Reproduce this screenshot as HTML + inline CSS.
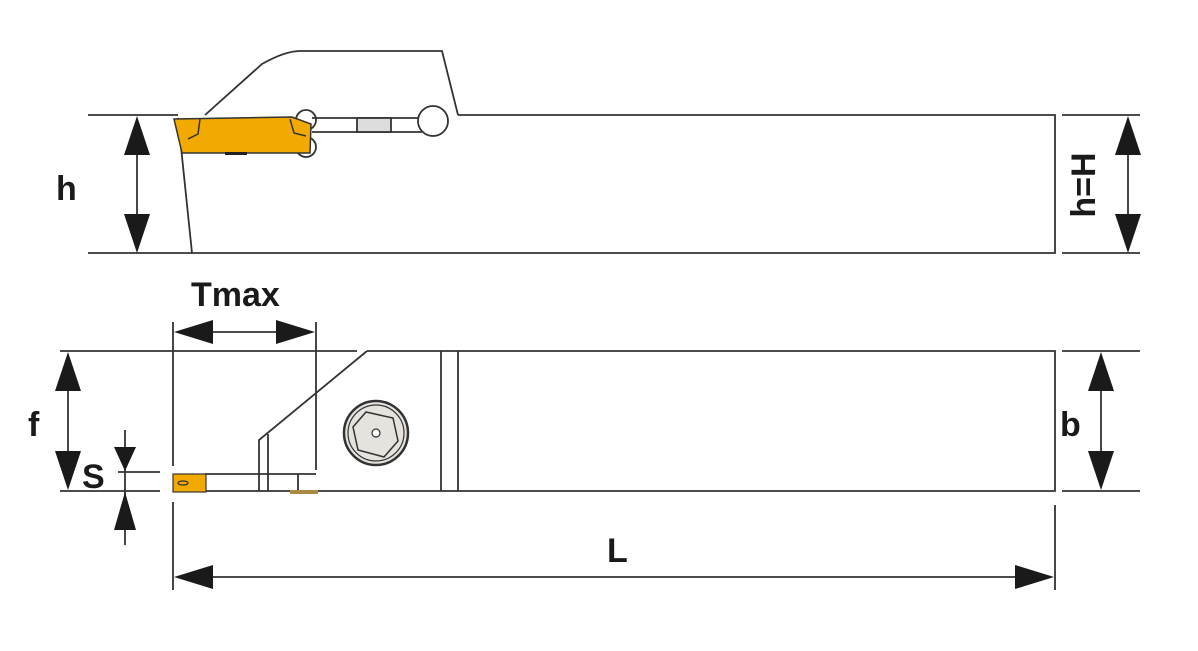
<!DOCTYPE html>
<html><head><style>
html,body{margin:0;padding:0;background:#fff;}
svg{display:block;}
text{font-family:"Liberation Sans",sans-serif;font-weight:bold;fill:#1a1a1a;}
</style></head><body>
<svg width="1198" height="651" viewBox="0 0 1198 651" xmlns="http://www.w3.org/2000/svg">
<g stroke="#333" stroke-width="1.8" fill="none">
<!-- top view holder -->
<path d="M458,115 L1055,115 L1055,253 L192,253 L178,118"/>
<path d="M205,115 L262,64 Q285,51 300,51 L442,51 L458,115"/>
<!-- blade / screw top -->
<path d="M312,118 L422,118 M312,132 L422,132"/>
<rect x="357" y="118" width="34" height="14" fill="#ddd"/>
<circle cx="433" cy="121" r="15" fill="#fff"/>
<circle cx="306" cy="120" r="10"/>
<circle cx="306" cy="147" r="10"/>
<path d="M88,115 L178,115 M88,253 L192,253"/>
<path d="M1062,115 L1140,115 M1062,253 L1140,253"/>
<path d="M137,140 L137,230 M1128,140 L1128,230"/>
</g>
<path d="M174,119 L292,117 L311,124 L310,153 L182,153 Z" fill="#f2a900" stroke="#333" stroke-width="1.5"/>
<path d="M200,119 L198,134 L188,139 M290,119 L294,133 L306,136" stroke="#333" stroke-width="1.5" fill="none"/>
<rect x="225" y="152" width="22" height="3" fill="#222"/>
<!-- arrows top -->
<g fill="#1a1a1a">
<path d="M137,116 L124,155 L150,155 Z M137,253 L124,214 L150,214 Z"/>
<path d="M1128,116 L1115,155 L1141,155 Z M1128,253 L1115,214 L1141,214 Z"/>
</g>
<text x="56" y="200" font-size="34">h</text>
<text transform="translate(1095,185) rotate(-90)" font-size="34" text-anchor="middle">h=H</text>

<!-- bottom view -->
<g stroke="#333" stroke-width="1.8" fill="none">
<path d="M367,351 L1055,351 L1055,491 L316,491"/>
<path d="M367,351 L259,440 L259,491 M268,434 L268,491"/>
<path d="M441,351 L441,491 M458,351 L458,491"/>
<path d="M60,351 L357,351 M60,491 L160,491 M118,472 L160,472"/>
<path d="M173,322 L173,466 M173,502 L173,590 M316,322 L316,470"/>
<path d="M205,474 L316,474 M205,491 L316,491 M298,474 L298,491"/>
<path d="M1062,351 L1140,351 M1062,491 L1140,491 M1055,505 L1055,590"/>
<path d="M68,380 L68,460 M1101,380 L1101,460 M125,430 L125,545 M200,332 L290,332 M200,577 L1030,577"/>
</g>
<rect x="173" y="474" width="33" height="18" fill="#f2a900" stroke="#333" stroke-width="1.2"/>
<ellipse cx="183" cy="483" rx="5" ry="2" fill="none" stroke="#333" stroke-width="1.2"/>
<rect x="290" y="490" width="28" height="4" fill="#a88a40"/>
<circle cx="376" cy="433" r="32" fill="#e6e2de" stroke="#333" stroke-width="2.5"/>
<circle cx="376" cy="433" r="28" fill="none" stroke="#333" stroke-width="1.2"/>
<path d="M366,412 L393,418 L398,441 L384,457 L358,450 L353,427 Z" fill="none" stroke="#333" stroke-width="1.5"/>
<circle cx="376" cy="433" r="4" fill="#fff" stroke="#333" stroke-width="1.2"/>
<g fill="#1a1a1a">
<path d="M68,352 L55,391 L81,391 Z M68,490 L55,451 L81,451 Z"/>
<path d="M1101,352 L1088,391 L1114,391 Z M1101,490 L1088,451 L1114,451 Z"/>
<path d="M125,471 L114,447 L136,447 Z M125,492 L114,530 L136,530 Z"/>
<path d="M174,332 L213,320 L213,344 Z M315,332 L276,320 L276,344 Z"/>
<path d="M174,577 L213,565 L213,589 Z M1054,577 L1015,565 L1015,589 Z"/>
</g>
<text x="191" y="306" font-size="34">Tmax</text>
<text x="28" y="436" font-size="34">f</text>
<text x="82" y="488" font-size="34">S</text>
<text x="1060" y="436" font-size="34">b</text>
<text x="607" y="562" font-size="34">L</text>
</svg>
</body></html>
